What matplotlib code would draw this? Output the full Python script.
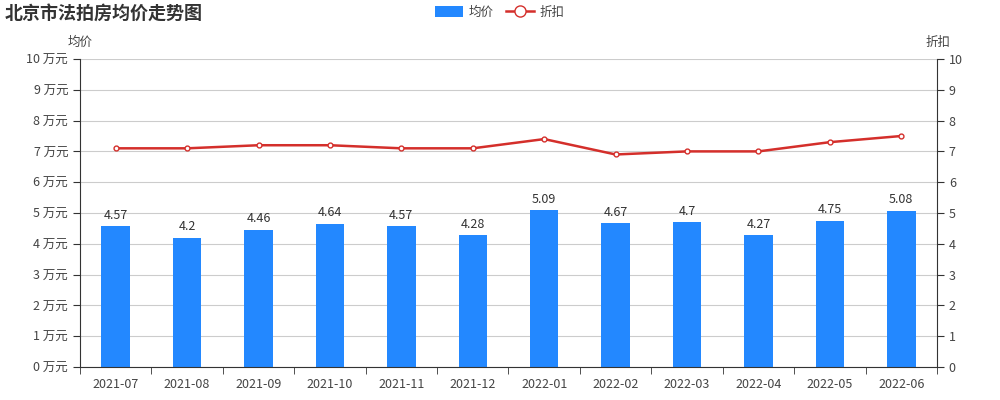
import numpy as np
import matplotlib
matplotlib.use("Agg")
import matplotlib.pyplot as plt
from matplotlib.lines import Line2D
from matplotlib.patches import Patch

plt.rcParams['font.family'] = ['Noto Sans CJK SC', 'DejaVu Sans']

months = ['2021-07', '2021-08', '2021-09', '2021-10', '2021-11', '2021-12',
          '2022-01', '2022-02', '2022-03', '2022-04', '2022-05', '2022-06']
avg_price = [4.57, 4.2, 4.46, 4.64, 4.57, 4.28, 5.09, 4.67, 4.7, 4.27, 4.75, 5.08]
discount = [7.1, 7.1, 7.2, 7.2, 7.1, 7.1, 7.4, 6.9, 7.0, 7.0, 7.3, 7.5]

bar_color = '#2388ff'
line_color = '#d42f2b'
text_color = '#444444'

fig = plt.figure(figsize=(10, 4), dpi=100)
ax = fig.add_axes([0.08, 0.0825, 0.857, 0.77])
x = np.arange(len(months))

ax.bar(x, avg_price, width=0.4, color=bar_color, zorder=2)
for xi, v in zip(x, avg_price):
    ax.text(xi, v + 0.15, f'{v:g}', ha='center', va='bottom', fontsize=9, color='#333333')

ax.set_xlim(-0.5, len(months) - 0.5)
ax.set_ylim(0, 10)
ax.set_yticks(range(11))
ax.set_yticklabels([f'{i} 万元' for i in range(11)])
ax.set_xticks(x)
ax.set_xticklabels(months)
ax.set_xticks(np.arange(-0.5, len(months), 1), minor=True)
ax.tick_params(axis='x', which='major', length=0, pad=8, labelsize=9, labelcolor=text_color)
ax.tick_params(axis='x', which='minor', length=5, color='#333333')
ax.tick_params(axis='y', length=5, labelsize=9, labelcolor=text_color, color='#333333')
ax.grid(axis='y', color='#cccccc', linewidth=0.8, zorder=0)
for s in ['top', 'right']:
    ax.spines[s].set_visible(False)
ax.spines['left'].set_color('#333333')
ax.spines['bottom'].set_color('#333333')

ax2 = ax.twinx()
ax2.plot(x, discount, color=line_color, linewidth=1.8, marker='o', markersize=3.5,
         markerfacecolor='white', markeredgecolor=line_color, markeredgewidth=1, zorder=3)
ax2.set_ylim(0, 10)
ax2.set_yticks(range(11))
ax2.tick_params(axis='y', length=5, labelsize=9, labelcolor=text_color, color='#333333')
for s in ['top', 'left', 'bottom']:
    ax2.spines[s].set_visible(False)
ax2.spines['right'].set_color('#333333')

fig.text(0.068, 0.895, '均价', fontsize=9, color=text_color, ha='left', va='center')
fig.text(0.938, 0.895, '折扣', fontsize=9, color=text_color, ha='center', va='center')
fig.text(0.005, 0.968, '北京市法拍房均价走势图', fontsize=13, fontweight='bold',
         color='#333333', ha='left', va='center')

handles = [Patch(facecolor=bar_color, edgecolor='none'),
           Line2D([0], [0], color=line_color, marker='o', markersize=8,
                  markerfacecolor='white', markeredgecolor=line_color, linewidth=1.8)]
fig.legend(handles, ['均价', '折扣'], loc='center', bbox_to_anchor=(0.5, 0.97), ncol=2,
           frameon=False, fontsize=9, handlelength=2.2, handleheight=1.0,
           columnspacing=1.0, handletextpad=0.5, labelcolor=text_color)

fig.savefig('out.png', dpi=100)
